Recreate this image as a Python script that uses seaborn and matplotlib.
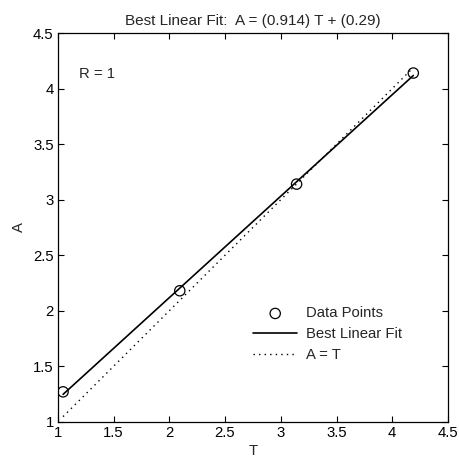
import numpy as np
import pandas as pd
import matplotlib
matplotlib.use("Agg")
import matplotlib.pyplot as plt
import seaborn as sns

T = [1.047, 2.094, 3.142, 4.189]
A = [1.27, 2.18, 3.14, 4.14]
ticks = [1, 1.5, 2, 2.5, 3, 3.5, 4, 4.5]
title = "Best Linear Fit:  A = (0.914) T + (0.29)"

sns.set_theme(style="white")
plt.rcParams['font.family'] = ['Liberation Sans', 'DejaVu Sans']
plt.rcParams['xtick.direction'] = 'in'
plt.rcParams['ytick.direction'] = 'in'

FS = 10.7

m, b = np.polyfit(T, A, 1)
tr = np.array([min(T), max(T)])
fit_df = pd.DataFrame({"T": tr, "A": m * tr + b})
id_df = pd.DataFrame({"T": tr, "A": tr})
pts = pd.DataFrame({"T": T, "A": A})

fig = plt.figure(figsize=(4.59, 4.59), dpi=100)
ax = fig.add_axes([0.126, 0.081, 0.85, 0.847])

sns.scatterplot(data=pts, x="T", y="A", ax=ax, marker="o", s=55,
                facecolor="none", edgecolor="black", linewidth=0.9,
                label="Data Points", zorder=3)
sns.lineplot(data=fit_df, x="T", y="A", ax=ax, color="black", linewidth=1.2,
             label="Best Linear Fit")
sns.lineplot(data=id_df, x="T", y="A", ax=ax, color="black", linewidth=1.0,
             linestyle=(0, (1, 3)), label="A = T")

ax.set_xlim(1, 4.5)
ax.set_ylim(1, 4.5)
ax.set_xticks(ticks)
ax.set_yticks(ticks)
ax.set_xticklabels([f"{t:g}" for t in ticks])
ax.set_yticklabels([f"{t:g}" for t in ticks])
ax.tick_params(axis="both", which="both", direction="in", length=4, width=0.8,
               top=True, right=True, bottom=True, left=True, labelsize=FS,
               colors="black", pad=3)
for s in ax.spines.values():
    s.set_color("black")
    s.set_linewidth(0.9)

ax.set_xlabel("T", fontsize=FS, labelpad=3)
ax.set_ylabel("A", fontsize=FS, labelpad=5)
ax.set_title(title, fontsize=11, pad=6)
ax.text(0.055, 0.895, "R = 1", transform=ax.transAxes, fontsize=FS, va="center")

leg = ax.legend(loc="upper left", bbox_to_anchor=(0.5, 0.297), frameon=False,
                fontsize=FS, handlelength=3.0, handletextpad=0.55,
                labelspacing=0.45, borderpad=0, borderaxespad=0)

fig.savefig("out.png", dpi=100)
